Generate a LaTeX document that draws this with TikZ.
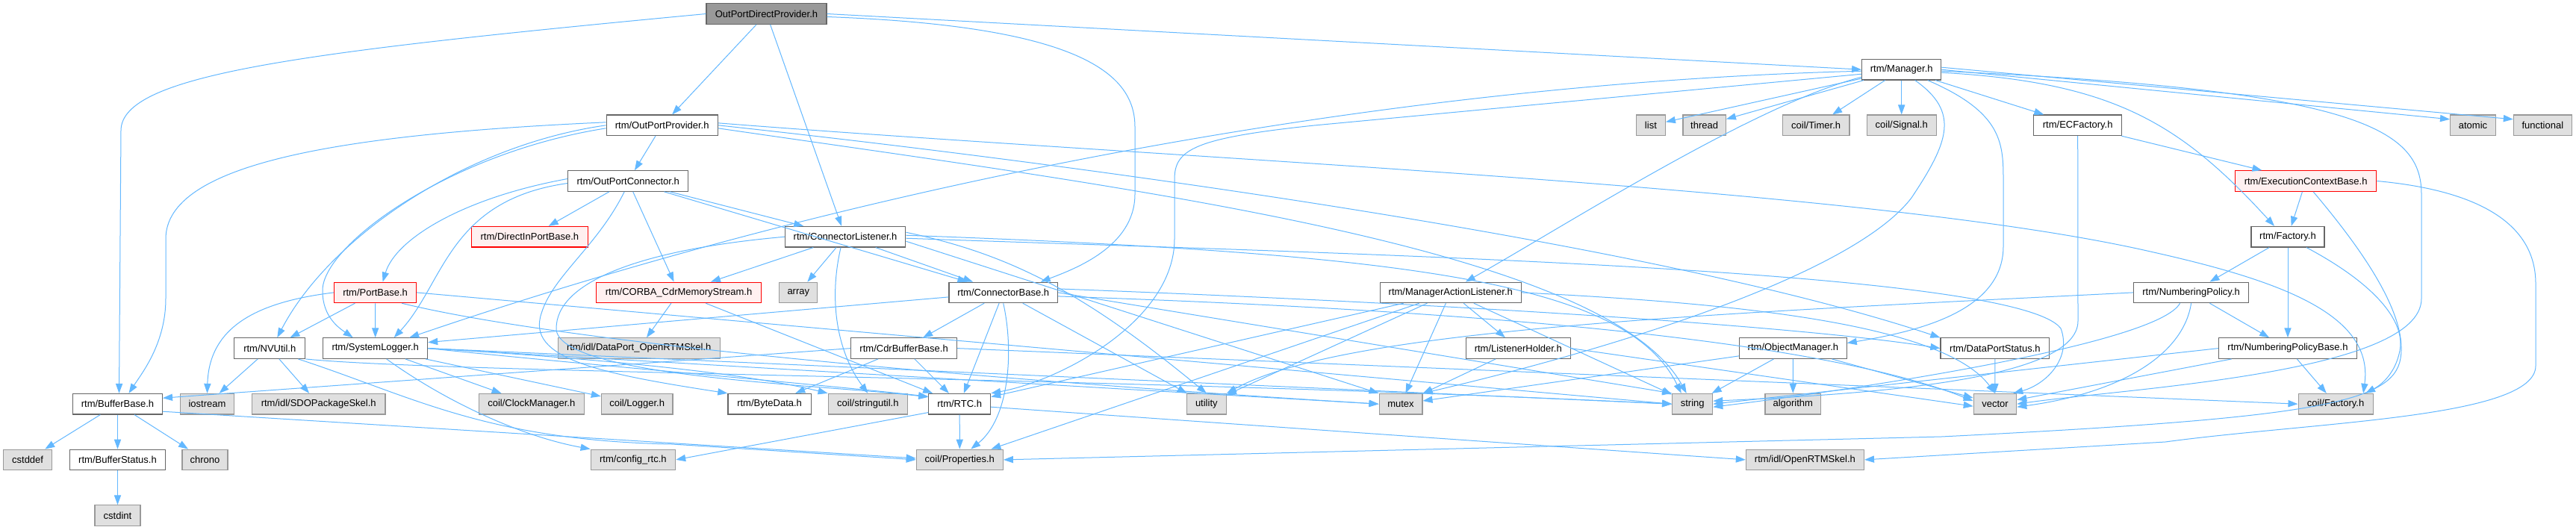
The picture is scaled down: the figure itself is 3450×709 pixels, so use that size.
\documentclass[tikz,border=0pt]{standalone}
\usepackage{fontspec}
\setmainfont{Liberation Sans}
\usetikzlibrary{arrows.meta,calc}
\definecolor{edgec}{HTML}{63B8FF}
\definecolor{nbord}{HTML}{666666}
\definecolor{gbord}{HTML}{999999}
\definecolor{gfill}{HTML}{E0E0E0}
\definecolor{rfill}{HTML}{FFF0F0}
\definecolor{rbord}{HTML}{FF0000}
\definecolor{tfill}{HTML}{999999}
\begin{document}
\begin{tikzpicture}[x=0.5pt,y=-0.5pt,
  base/.style={rectangle, inner sep=0pt, minimum height=13.75pt, line width=0.6pt, font=\fontsize{6.5}{7}\selectfont, text=black},
  wn/.style={base, draw=nbord, fill=white},
  gn/.style={base, draw=gbord, fill=gfill},
  rn/.style={base, draw=rbord, fill=rfill},
  tn/.style={base, draw=nbord, fill=tfill},
  ed/.style={draw=edgec, line width=0.5pt, -{Triangle[length=6.5pt,width=4.6pt]}},
]
\useasboundingbox (0,0) rectangle (3450,709);
\fill[white] (0,0) rectangle (3450,709);
% row 0-1
\node[tn, minimum width=80.5pt] (odp) at (1026.5,18.5) {OutPortDirectProvider.h};
\node[wn, minimum width=53pt] (mgr) at (2546.7,93.2) {rtm/Manager.h};
% row 2
\node[wn, minimum width=74.5pt] (opp) at (886.7,167.8) {rtm/OutPortProvider.h};
\node[gn, minimum width=19.4pt] (list) at (2210.9,167.8) {list};
\node[gn, minimum width=28.7pt] (thread) at (2282.6,167.8) {thread};
\node[gn, minimum width=44.8pt] (timer) at (2432.1,167.8) {coil/Timer.h};
\node[gn, minimum width=46.5pt] (signal) at (2546.7,167.8) {coil/Signal.h};
\node[wn, minimum width=59pt] (ecf) at (2782.7,167.8) {rtm/ECFactory.h};
\node[gn, minimum width=30.4pt] (atomic) at (3312,167.8) {atomic};
\node[gn, minimum width=38.9pt] (functional) at (3405.3,167.8) {functional};
% row 3
\node[wn, minimum width=80.5pt] (opc) at (841.2,242.5) {rtm/OutPortConnector.h};
\node[rn, minimum width=94.7pt] (ecb) at (3088.1,242.5) {rtm/ExecutionContextBase.h};
% row 4
\node[rn, minimum width=78pt] (dipb) at (709.4,317.2) {rtm/DirectInPortBase.h};
\node[wn, minimum width=80.7pt] (cl) at (1132.1,317.2) {rtm/ConnectorListener.h};
\node[wn, minimum width=49pt] (fac) at (3064,317.2) {rtm/Factory.h};
% row 5
\node[rn, minimum width=55pt] (pb) at (502.6,391.9) {rtm/PortBase.h};
\node[rn, minimum width=110.5pt] (corba) at (909.1,391.9) {rtm/CORBA\_CdrMemoryStream.h};
\node[gn, minimum width=25.5pt] (array) at (1069.3,391.9) {array};
\node[wn, minimum width=72.7pt] (cb) at (1343.7,391.9) {rtm/ConnectorBase.h};
\node[wn, minimum width=94.5pt] (mal) at (1942.8,391.9) {rtm/ManagerActionListener.h};
\node[wn, minimum width=77pt] (np) at (2934.6,391.9) {rtm/NumberingPolicy.h};
% row 6
\node[wn, minimum width=47.5pt] (nvu) at (361.3,466.6) {rtm/NVUtil.h};
\node[wn, minimum width=69.9pt] (slog) at (502.7,466.6) {rtm/SystemLogger.h};
\node[gn, minimum width=108.5pt] (dpskel) at (855.7,466.6) {rtm/idl/DataPort\_OpenRTMSkel.h};
\node[wn, minimum width=70.8pt] (cdrbb) at (1210.6,466.6) {rtm/CdrBufferBase.h};
\node[wn, minimum width=69.8pt] (lh) at (2033.3,466.6) {rtm/ListenerHolder.h};
\node[wn, minimum width=71.8pt] (om) at (2401.4,466.6) {rtm/ObjectManager.h};
\node[wn, minimum width=72.9pt] (dps) at (2671.9,466.6) {rtm/DataPortStatus.h};
\node[wn, minimum width=92.4pt] (npb) at (3064,466.6) {rtm/NumberingPolicyBase.h};
% row 7
\node[wn, minimum width=59.9pt] (bb) at (157.5,541.2) {rtm/BufferBase.h};
\node[gn, minimum width=36pt] (ios) at (277.5,541.2) {iostream};
\node[gn, minimum width=89.2pt] (sdo) at (426.7,541.2) {rtm/idl/SDOPackageSkel.h};
\node[gn, minimum width=70.6pt] (clk) at (711.8,541.2) {coil/ClockManager.h};
\node[gn, minimum width=47.8pt] (logger) at (853.2,541.2) {coil/Logger.h};
\node[wn, minimum width=55.7pt] (bd) at (1030.6,541.2) {rtm/ByteData.h};
\node[gn, minimum width=53.2pt] (su) at (1162.4,541.2) {coil/stringutil.h};
\node[wn, minimum width=41.4pt] (rtc) at (1285.2,541.2) {rtm/RTC.h};
\node[gn, minimum width=26.5pt] (util) at (1615.8,541.2) {utility};
\node[gn, minimum width=28.9pt] (mutex) at (1876,541.2) {mutex};
\node[gn, minimum width=27pt] (str) at (2266.7,541.2) {string};
\node[gn, minimum width=37.3pt] (algo) at (2401.3,541.2) {algorithm};
\node[gn, minimum width=28.7pt] (vec) at (2672,541.2) {vector};
\node[gn, minimum width=50pt] (cf) at (3128.1,541.2) {coil/Factory.h};
% row 8
\node[gn, minimum width=32.5pt] (cstddef) at (37.1,615.9) {cstddef};
\node[wn, minimum width=63.7pt] (bs) at (157.5,615.9) {rtm/BufferStatus.h};
\node[gn, minimum width=30.5pt] (chrono) at (274.5,615.9) {chrono};
\node[gn, minimum width=56.7pt] (cfg) at (847.9,615.9) {rtm/config\_rtc.h};
\node[gn, minimum width=58pt] (prop) at (1285.3,615.9) {coil/Properties.h};
\node[gn, minimum width=79pt] (orskel) at (2417.4,615.9) {rtm/idl/OpenRTMSkel.h};
% row 9
\node[gn, minimum width=30.5pt] (cstdint) at (157.5,690.6) {cstdint};

% ---- edges ----
% OutPortDirectProvider
\draw[ed] (odp.west) .. controls (400,70) and (162,100) .. (162,175) -- ($(bb.north)+(2,0)$);
\draw[ed] (odp) -- (opp);
\draw[ed] (odp) -- (cl);
\draw[ed] ($(odp.east)+(0,4)$) .. controls (1450,35) and (1520,100) .. (1520,170) -- (1520,260) .. controls (1520,330) and (1440,360) .. ($(cb.north)+(50,0)$);
\draw[ed] (odp.east) -- (mgr.west);
% OutPortProvider
\draw[ed] (opp) -- (opc);
\draw[ed] ($(opp.west)+(0,-4)$) .. controls (450,180) and (222,220) .. (222,320) -- (222,400) .. controls (222,460) and (190,500) .. ($(bb.north)+(15,0)$);
\draw[ed] (opp.west) .. controls (620,195) and (440,320) .. ($(nvu.north)+(10,0)$);
\draw[ed] ($(opp.west)+(0,4)$) .. controls (600,205) and (430,330) .. (432,390) .. controls (432,425) and (455,440) .. ($(slog.north)+(-30,0)$);
\draw[ed] ($(opp.east)+(0,-3)$) .. controls (1600,215) and (2500,250) .. (2880,337) .. controls (3050,375) and (3180,420) .. ($(cf.north)+(37,0)$);
\draw[ed] ($(opp.east)+(0,4)$) .. controls (1500,250) and (2150,330) .. ($(str.north)+(-8,0)$);
\draw[ed] (opp.east) .. controls (1400,215) and (2200,320) .. (dps.north west);
% OutPortConnector
\draw[ed] ($(opc.west)+(0,-3)$) .. controls (620,265) and (530,320) .. ($(pb.north)+(10,0)$);
\draw[ed] ($(opc.west)+(0,3)$) .. controls (600,268) and (595,380) .. ($(slog.north)+(25,0)$);
\draw[ed] (opc) -- (dipb);
\draw[ed] (opc) -- (corba);
\draw[ed] (opc) -- (cl);
\draw[ed] (opc) -- (cb);
\draw[ed] ($(opc.south)+(-5,0)$) .. controls (800,330) and (740,370) .. (725,420) .. controls (705,480) and (800,500) .. (bd.north west);
% ConnectorListener
\draw[ed] (cl) -- (corba);
\draw[ed] (cl) -- (array);
\draw[ed] (cl) -- (cb);
\draw[ed] ($(cl.south)+(-6,0)$) .. controls (1110,400) and (1120,470) .. (su.north);
\draw[ed] ($(cl.east)+(0,-6)$) .. controls (1350,340) and (1450,390) .. (util.north);
\draw[ed] (cl.west) .. controls (850,335) and (745,380) .. (745,440) .. controls (745,505) and (1100,515) .. ($(rtc.north west)+(0,5)$);
\draw[ed] ($(cl.east)+(0,-2)$) .. controls (1900,340) and (2180,380) .. ($(str.north)+(-15,0)$);
\draw[ed] ($(cl.east)+(0,2)$) .. controls (1800,340) and (2700,360) .. (2760,440) .. controls (2775,480) and (2740,515) .. ($(vec.north east)+(-5,0)$);
\draw[ed] ($(cl.east)+(0,6)$) -- (mutex.north west);
% PortBase
\draw[ed] (pb.west) .. controls (340,405) and (280,440) .. (ios.north);
\draw[ed] (pb) -- (nvu);
\draw[ed] (pb) -- (slog);
\draw[ed] (pb.east) -- (str.west);
\draw[ed] ($(pb.south east)+(-20,0)$) .. controls (800,470) and (1500,520) .. (mutex.west);
% CORBA
\draw[ed] (corba) -- (dpskel);
\draw[ed] (corba) -- (rtc);
% ConnectorBase
\draw[ed] ($(cb.west)+(0,6)$) -- ($(slog.east)+(0,-8)$);
\draw[ed] (cb) -- (cdrbb);
\draw[ed] (cb) -- (rtc);
\draw[ed] (cb.south) .. controls (1358,470) and (1352,560) .. ($(prop.north)+(15,0)$);
\draw[ed] (cb) -- (util);
\draw[ed] ($(cb.east)+(0,-5)$) .. controls (1900,405) and (2400,435) .. (dps.west);
\draw[ed] (cb.east) -- (str.north west);
\draw[ed] ($(cb.east)+(0,5)$) .. controls (1800,410) and (2400,440) .. ($(vec.west)+(0,-4)$);
% Manager
\draw[ed] (mgr) -- (list);
\draw[ed] (mgr) -- (thread);
\draw[ed] (mgr) -- (timer);
\draw[ed] (mgr) -- (signal);
\draw[ed] (mgr) -- (ecf);
\draw[ed] (mgr.east) -- ($(atomic.west)+(0,-8)$);
\draw[ed] ($(mgr.east)+(0,-3)$) -- ($(functional.west)+(0,-8)$);
\draw[ed] ($(mgr.east)+(0,4)$) .. controls (2830,110) and (2920,165) .. ($(fac.north)+(-18,0)$);
\draw[ed] ($(mgr.east)+(0,2)$) .. controls (3150,120) and (3243,170) .. (3243,260) -- (3243,400) .. controls (3243,500) and (2850,520) .. (vec.east);
\draw[ed] ($(mgr.west)+(0,10)$) .. controls (2350,140) and (2100,300) .. ($(mal.north)+(20,0)$);
\draw[ed] ($(mgr.west)+(0,2)$) .. controls (1900,110) and (1200,230) .. ($(slog.north east)+(-25,0)$);
\draw[ed] ($(mgr.west)+(0,6)$) -- (1760,168) .. controls (1600,185) and (1573,200) .. (1573,240) -- (1573,320) .. controls (1573,430) and (1420,510) .. (rtc.north east);
\draw[ed] ($(mgr.south)+(18,0)$) .. controls (2625,150) and (2610,190) .. (2560,265) .. controls (2480,370) and (2150,470) .. (mutex.north east);
\draw[ed] ($(mgr.south)+(35,0)$) .. controls (2680,150) and (2683,190) .. (2683,240) -- (2683,330) .. controls (2683,420) and (2560,445) .. ($(om.east)+(0,-7)$);
% ECFactory
\draw[ed] (ecf) -- (ecb);
\draw[ed] (ecf.south) -- (2783,430) .. controls (2783,510) and (2500,528) .. ($(str.east)+(0,-4)$);
% ExecutionContextBase
\draw[ed] (ecb) -- (fac);
\draw[ed] ($(ecb.south)+(10,0)$) .. controls (3160,330) and (3225,420) .. (3215,480) .. controls (3205,540) and (3100,560) .. (2600,585) -- (prop.east);
\draw[ed] (ecb.east) .. controls (3320,255) and (3396,300) .. (3396,380) -- (3396,490) .. controls (3396,560) and (3100,565) .. (2900,592) -- (orskel.east);
% Factory
\draw[ed] (fac) -- (np);
\draw[ed] (fac) -- (npb);
\draw[ed] ($(fac.south)+(25,0)$) .. controls (3180,380) and (3222,430) .. (3214,470) .. controls (3208,500) and (3190,515) .. ($(cf.north)+(40,0)$);
% NumberingPolicy
\draw[ed] (np) -- (npb);
\draw[ed] (np.west) .. controls (2300,420) and (1800,440) .. (util.north east);
\draw[ed] ($(np.south)+(-15,0)$) .. controls (2890,460) and (2500,520) .. ($(str.east)+(0,4)$);
\draw[ed] (np.south) .. controls (2925,470) and (2850,525) .. ($(vec.east)+(0,4)$);
% NumberingPolicyBase
\draw[ed] (npb) -- (cf);
\draw[ed] (npb.west) -- (str.east);
\draw[ed] (npb) -- (vec);
% ObjectManager
\draw[ed] (om) -- (algo);
\draw[ed] (om) -- (vec);
\draw[ed] (om) -- (str);
\draw[ed] (om) -- (mutex);
% DataPortStatus
\draw[ed] (dps) -- (vec);
% ListenerHolder
\draw[ed] (lh) -- (mutex);
\draw[ed] (lh.east) -- ($(vec.west)+(0,3)$);
% ManagerActionListener
\draw[ed] (mal) -- (lh);
\draw[ed] (mal) -- (mutex);
\draw[ed] (mal) -- (str);
\draw[ed] (mal) -- (util);
\draw[ed] (mal) -- (rtc);
\draw[ed] (mal) -- (prop);
\draw[ed] (mal.east) .. controls (2300,405) and (2600,430) .. (vec.north);
% NVUtil
\draw[ed] (nvu) -- (ios);
\draw[ed] (nvu) -- (sdo);
\draw[ed] (nvu.south east) .. controls (600,500) and (1500,505) .. (str.west);
\draw[ed] ($(nvu.south east)+(-10,0)$) .. controls (550,530) and (650,590) .. (900,595) -- (prop.west);
% SystemLogger
\draw[ed] (slog) -- (clk);
\draw[ed] (slog) -- (logger);
\draw[ed] (slog.east) .. controls (800,480) and (1000,500) .. (su.north west);
\draw[ed] (slog.east) .. controls (800,490) and (1100,515) .. ($(rtc.west)+(0,-10)$);
\draw[ed] (slog.east) -- (mutex.west);
\draw[ed] (slog.east) -- (str.west);
\draw[ed] ($(slog.south)+(15,0)$) .. controls (600,540) and (700,585) .. (cfg.north west);
% CdrBufferBase
\draw[ed] (cdrbb.west) -- ($(bb.east)+(0,-8)$);
\draw[ed] (cdrbb) -- (bd);
\draw[ed] (cdrbb) -- (rtc);
\draw[ed] (cdrbb.east) -- (cf.west);
% BufferBase
\draw[ed] (bb) -- (cstddef);
\draw[ed] (bb) -- (bs);
\draw[ed] (bb) -- (chrono);
\draw[ed] ($(bb.east)+(0,10)$) -- ($(prop.west)+(0,-2)$);
\draw[ed] (bs) -- (cstdint);
% RTC
\draw[ed] (rtc) -- (prop);
\draw[ed] ($(rtc.south west)+(0,-3)$) -- (cfg.east);
\draw[ed] ($(rtc.east)+(0,4)$) -- (orskel.west);
\end{tikzpicture}
\end{document}
